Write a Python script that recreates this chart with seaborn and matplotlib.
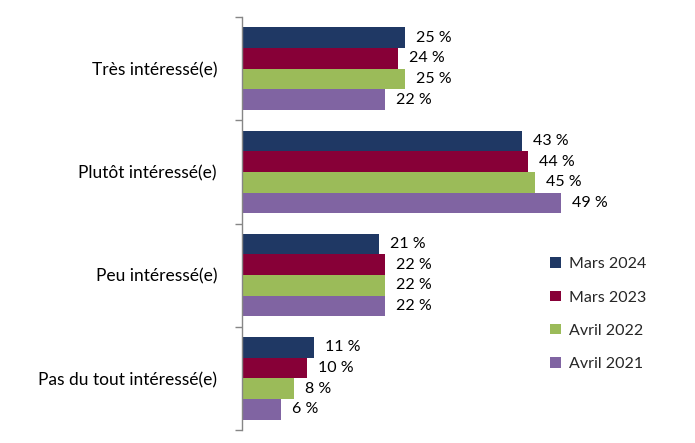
import matplotlib
matplotlib.use("Agg")
import matplotlib.pyplot as plt
import seaborn as sns
import pandas as pd
from matplotlib.ticker import FixedLocator

categories = ["Très intéressé(e)", "Plutôt intéressé(e)", "Peu intéressé(e)", "Pas du tout intéressé(e)"]
series_names = ["Mars 2024", "Mars 2023", "Avril 2022", "Avril 2021"]
mars_2024 = [25, 43, 21, 11]
mars_2023 = [24, 44, 22, 10]
avril_2022 = [25, 45, 22, 8]
avril_2021 = [22, 49, 22, 6]
colors = ["#1F3864", "#870037", "#9BBB59", "#8064A2"]

values = [mars_2024, mars_2023, avril_2022, avril_2021]
rows = []
for name, vals in zip(series_names, values):
    for c, v in zip(categories, vals):
        rows.append({"cat": c, "serie": name, "val": v})
df = pd.DataFrame(rows)

sns.set_style("white")
plt.rcParams["font.family"] = ["Lato", "DejaVu Sans"]

fig = plt.figure(figsize=(6.95, 4.43), dpi=100)
ax = fig.add_axes([242/695, 13/443, 453/695, 413/443])

sns.barplot(data=df, y="cat", x="val", hue="serie", order=categories,
            hue_order=series_names, palette=colors, orient="h",
            width=0.8, saturation=1, ax=ax, legend=True, errorbar=None,
            linewidth=0, edgecolor="none")

ax.set_xlim(0, 453/6.5)
ax.set_ylim(3.5, -0.5)
for cont in ax.containers:
    ax.bar_label(cont, labels=[f"{v:.0f} %" for v in cont.datavalues],
                 padding=8, fontsize=11.5, color="#000000")

for s in ["top", "right", "bottom"]:
    ax.spines[s].set_visible(False)
ax.spines["left"].set_color("#868686")
ax.spines["left"].set_linewidth(1)
ax.set_xticks([])
ax.set_xlabel("")
ax.set_ylabel("")
ax.tick_params(axis="y", which="major", left=False, length=0, labelsize=12.5, pad=18, colors="#000000")
ax.yaxis.set_minor_locator(FixedLocator([-0.5, 0.5, 1.5, 2.5, 3.5]))
ax.tick_params(axis="y", which="minor", left=True, length=5, color="#868686", width=1, direction="out")

handles, labels = ax.get_legend_handles_labels()
ax.legend(handles, labels, loc="upper left", bbox_to_anchor=(536/695, 1 - 243/443),
          bbox_transform=fig.transFigure, frameon=False, fontsize=11.5,
          handlelength=0.65, handleheight=0.65, handletextpad=0.5, labelspacing=1.2)

fig.savefig("out.png", dpi=100)
